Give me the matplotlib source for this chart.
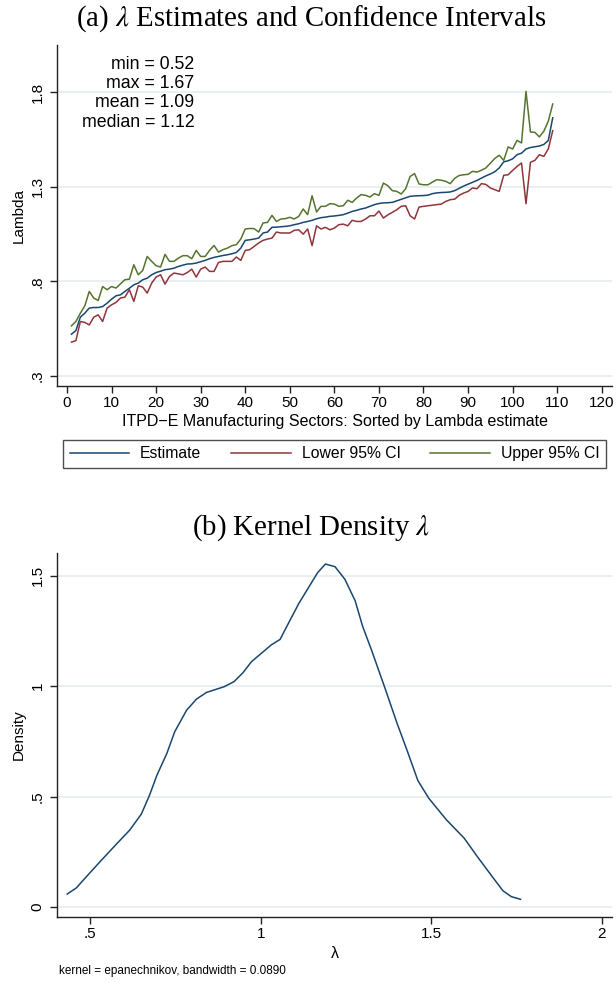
import matplotlib
matplotlib.use("Agg")
import matplotlib.pyplot as plt
from matplotlib.lines import Line2D

plt.rcParams['font.family'] = ['Liberation Sans', 'DejaVu Sans']
plt.rcParams['mathtext.fontset'] = 'stix'

# --- panel (a): sector estimates, sorted ---
sector = list(range(1, 110))
estimate = [
    0.521, 0.540, 0.611, 0.632, 0.659, 0.662, 0.662, 0.667, 0.685, 0.706,
    0.724, 0.729, 0.747, 0.764, 0.782, 0.791, 0.809, 0.817, 0.835, 0.847,
    0.854, 0.862, 0.865, 0.870, 0.879, 0.886, 0.892, 0.893, 0.897, 0.904,
    0.911, 0.920, 0.927, 0.932, 0.937, 0.941, 0.946, 0.953, 0.976, 1.017,
    1.020, 1.024, 1.029, 1.056, 1.061, 1.086, 1.087, 1.089, 1.091, 1.094,
    1.100, 1.105, 1.112, 1.117, 1.123, 1.131, 1.137, 1.140, 1.144, 1.146,
    1.149, 1.153, 1.161, 1.170, 1.176, 1.183, 1.188, 1.197, 1.206, 1.212,
    1.215, 1.216, 1.218, 1.226, 1.234, 1.242, 1.250, 1.252, 1.253, 1.254,
    1.256, 1.264, 1.268, 1.270, 1.271, 1.273, 1.280, 1.292, 1.304, 1.314,
    1.324, 1.334, 1.346, 1.358, 1.368, 1.380, 1.400, 1.432, 1.438, 1.448,
    1.470, 1.478, 1.500, 1.508, 1.512, 1.516, 1.524, 1.545, 1.665,
]
lower_ci = [
    0.479, 0.487, 0.588, 0.583, 0.570, 0.611, 0.623, 0.588, 0.659, 0.676,
    0.689, 0.712, 0.717, 0.756, 0.694, 0.777, 0.770, 0.738, 0.791, 0.823,
    0.835, 0.786, 0.826, 0.844, 0.840, 0.835, 0.847, 0.865, 0.823, 0.865,
    0.876, 0.853, 0.853, 0.900, 0.906, 0.906, 0.906, 0.929, 0.911, 0.964,
    0.968, 0.985, 1.003, 1.017, 1.024, 1.029, 1.061, 1.056, 1.056, 1.056,
    1.070, 1.073, 1.050, 1.077, 0.989, 1.094, 1.077, 1.086, 1.073, 1.082,
    1.100, 1.103, 1.094, 1.123, 1.117, 1.117, 1.130, 1.147, 1.147, 1.172,
    1.135, 1.152, 1.165, 1.179, 1.197, 1.200, 1.147, 1.130, 1.193, 1.197,
    1.200, 1.203, 1.206, 1.209, 1.223, 1.232, 1.235, 1.255, 1.267, 1.276,
    1.294, 1.290, 1.317, 1.313, 1.294, 1.285, 1.276, 1.361, 1.364, 1.387,
    1.408, 1.426, 1.211, 1.430, 1.440, 1.470, 1.461, 1.500, 1.597,
]
upper_ci = [
    0.565, 0.588, 0.632, 0.671, 0.747, 0.712, 0.699, 0.773, 0.756, 0.773,
    0.765, 0.787, 0.809, 0.812, 0.888, 0.835, 0.858, 0.932, 0.906, 0.883,
    0.876, 0.943, 0.906, 0.906, 0.923, 0.936, 0.936, 0.920, 0.964, 0.932,
    0.932, 0.964, 0.990, 0.955, 0.968, 0.976, 0.989, 0.994, 1.024, 1.077,
    1.080, 1.079, 1.061, 1.109, 1.112, 1.149, 1.117, 1.130, 1.132, 1.139,
    1.130, 1.144, 1.183, 1.153, 1.253, 1.167, 1.197, 1.197, 1.211, 1.209,
    1.197, 1.200, 1.229, 1.218, 1.241, 1.259, 1.255, 1.246, 1.264, 1.255,
    1.320, 1.306, 1.280, 1.276, 1.262, 1.290, 1.355, 1.370, 1.315, 1.311,
    1.311, 1.325, 1.338, 1.335, 1.329, 1.317, 1.345, 1.360, 1.364, 1.366,
    1.382, 1.378, 1.388, 1.400, 1.425, 1.450, 1.467, 1.440, 1.511, 1.500,
    1.546, 1.532, 1.805, 1.590, 1.588, 1.564, 1.594, 1.647, 1.738,
]
stats_lines = ["min = 0.52", "max = 1.67", "mean = 1.09", "median = 1.12"]

# --- panel (b): kernel density of lambda ---
kd_x = [0.433, 0.460, 0.489, 0.529, 0.570, 0.616, 0.650, 0.674, 0.696, 0.725,
        0.748, 0.783, 0.812, 0.841, 0.893, 0.922, 0.948, 0.973, 1.002, 1.031,
        1.057, 1.071, 1.112, 1.167, 1.190, 1.218, 1.247, 1.277, 1.299, 1.325,
        1.363, 1.400, 1.429, 1.461, 1.493, 1.545, 1.597, 1.632, 1.672, 1.710,
        1.735, 1.762]
kd_y = [0.059, 0.087, 0.137, 0.205, 0.273, 0.348, 0.420, 0.505, 0.597, 0.695,
        0.793, 0.891, 0.941, 0.971, 0.997, 1.020, 1.060, 1.110, 1.148, 1.186,
        1.211, 1.253, 1.374, 1.513, 1.552, 1.540, 1.483, 1.386, 1.270, 1.163,
        0.997, 0.831, 0.710, 0.572, 0.492, 0.394, 0.311, 0.235, 0.152, 0.074,
        0.047, 0.035]

navy = '#1a476f'
maroon = '#90353b'
green = '#55752f'
grid_c = '#e6eef0'

fig = plt.figure(figsize=(6.16, 9.83), dpi=100)
W, H = 616, 983


def box(l, t, r, b):
    return [l / W, 1 - b / H, (r - l) / W, (b - t) / H]


def style(ax):
    for s in ['top', 'right']:
        ax.spines[s].set_visible(False)
    for s in ['left', 'bottom']:
        ax.spines[s].set_linewidth(1.0)
        ax.spines[s].set_color('#222222')
    ax.tick_params(axis='both', length=5, width=1.0, color='#222222', labelsize=11)
    ax.tick_params(axis='y', pad=4)
    ax.tick_params(axis='x', pad=2)
    ax.grid(axis='y', color=grid_c, linewidth=1.2)
    ax.set_axisbelow(True)
    for lab in ax.get_yticklabels():
        lab.set_rotation(90)
        lab.set_va('center')


# (a)
ax1 = fig.add_axes(box(57, 45, 612, 386))
ax1.plot(sector, estimate, color=navy, lw=1.1)
ax1.plot(sector, lower_ci, color=maroon, lw=1.1)
ax1.plot(sector, upper_ci, color=green, lw=1.1)
ax1.set_xlim(-2.24, 122.3)
ax1.set_ylim(0.247, 2.05)
ax1.set_xticks(range(0, 121, 10))
ax1.set_yticks([0.3, 0.8, 1.3, 1.8])
ax1.set_yticklabels(['.3', '.8', '1.3', '1.8'])
style(ax1)
ax1.set_xlabel('ITPD\u2212E Manufacturing Sectors: Sorted by Lambda estimate', fontsize=11.5, labelpad=3)
ax1.set_ylabel('Lambda', fontsize=11)
ax1.yaxis.set_label_coords(-0.056, 0.5)
stat_y = [1.947, 1.846, 1.745, 1.640]
for txt, yy in zip(stats_lines, stat_y):
    ax1.text(28.6, yy, txt, ha='right', va='center', fontsize=12.8)
fig.text(311 / W, 1 - 26 / H, r'(a) $\lambda$ Estimates and Confidence Intervals',
         ha='center', va='baseline', fontsize=20.8, family='Liberation Serif')

handles = [Line2D([], [], color=navy, lw=1.1),
           Line2D([], [], color=maroon, lw=1.1),
           Line2D([], [], color=green, lw=1.1)]
leg = fig.legend(handles, ['Estimate', 'Lower 95% CI', 'Upper 95% CI'],
                 loc='lower left', bbox_to_anchor=box(63, 439, 606, 468),
                 mode='expand', ncol=3, fontsize=11.3, handlelength=3.8,
                 handletextpad=0.7, borderaxespad=0, borderpad=0.42,
                 fancybox=False, frameon=True)
leg.get_frame().set_edgecolor('#222222')
leg.get_frame().set_linewidth(1.0)

# (b)
ax2 = fig.add_axes(box(57, 553, 612, 917))
ax2.plot(kd_x, kd_y, color=navy, lw=1.1)
ax2.set_xlim(0.403, 2.03)
ax2.set_ylim(-0.045, 1.602)
ax2.set_xticks([0.5, 1, 1.5, 2])
ax2.set_xticklabels(['.5', '1', '1.5', '2'])
ax2.set_yticks([0, 0.5, 1, 1.5])
ax2.set_yticklabels(['0', '.5', '1', '1.5'])
style(ax2)
ax2.set_xlabel('\u03bb', fontsize=11.5, labelpad=4)
ax2.set_ylabel('Density', fontsize=11)
ax2.yaxis.set_label_coords(-0.056, 0.5)
fig.text(311 / W, 1 - 535 / H, r'(b) Kernel Density $\lambda$',
         ha='center', va='baseline', fontsize=20.8, family='Liberation Serif')
fig.text(59 / W, 1 - 971 / H, 'kernel = epanechnikov, bandwidth = 0.0890',
         ha='left', va='center', fontsize=8.5)

fig.savefig('out.png', dpi=100)
